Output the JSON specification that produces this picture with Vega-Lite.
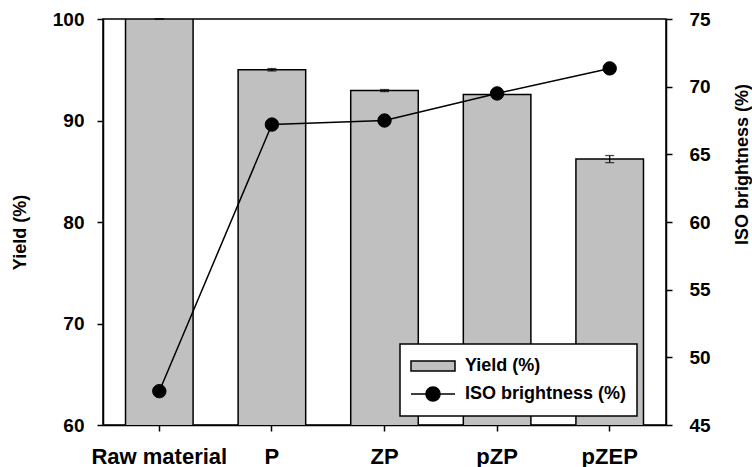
{
  "$schema": "https://vega.github.io/schema/vega-lite/v6.json",
  "width": 563,
  "height": 406,
  "autosize": {"type": "none"},
  "padding": {"left": 103, "top": 19, "right": 86, "bottom": 42},
  "background": "white",
  "config": {
    "font": "Liberation Sans",
    "view": {"stroke": "black", "strokeWidth": 1.5},
    "axis": {
      "domainColor": "black", "domainWidth": 1.5,
      "tickColor": "black", "tickWidth": 1.5, "tickSize": 6,
      "grid": false,
      "labelColor": "black", "labelFont": "Liberation Sans", "labelFontWeight": "bold", "labelFontSize": 19,
      "titleColor": "black", "titleFont": "Liberation Sans", "titleFontWeight": "bold", "titleFontSize": 18
    }
  },
  "data": {
    "values": [
      {"sample": "Raw material", "yield": 100, "yield_lo": 100, "yield_hi": 100, "brightness": 47.5},
      {"sample": "P", "yield": 95.0, "yield_lo": 94.88, "yield_hi": 95.12, "brightness": 67.2},
      {"sample": "ZP", "yield": 92.95, "yield_lo": 92.85, "yield_hi": 93.05, "brightness": 67.5},
      {"sample": "pZP", "yield": 92.55, "yield_lo": 92.5, "yield_hi": 92.6, "brightness": 69.5},
      {"sample": "pZEP", "yield": 86.2, "yield_lo": 85.85, "yield_hi": 86.55, "brightness": 71.35}
    ]
  },
  "encoding": {
    "x": {
      "field": "sample", "type": "nominal", "sort": null,
      "scale": {"paddingInner": 0.4, "paddingOuter": 0.2},
      "axis": {"title": null, "labelAngle": 0, "labelPadding": 32, "labelBaseline": "alphabetic", "labelFontSize": 22, "domain": true}
    }
  },
  "layer": [
    {
      "layer": [
        {
          "mark": {"type": "bar", "stroke": "black", "strokeWidth": 1.5, "clip": true},
          "encoding": {
            "y": {
              "field": "yield", "type": "quantitative",
              "scale": {"domain": [60, 100], "nice": false, "zero": false},
              "axis": {
                "values": [60, 70, 80, 90, 100], "labelPadding": 13,
                "title": "Yield (%)", "titleX": -83, "titleY": 213, "titleAngle": 270, "titleBaseline": "middle"
              }
            },
            "fill": {
              "datum": "Yield (%)",
              "scale": {"domain": ["Yield (%)", "ISO brightness (%)"], "range": ["#c0c0c0", "black"]},
              "legend": {
                "title": null,
                "orient": "none", "legendX": 297, "legendY": 325,
                "strokeColor": "black", "fillColor": "white",
                "padding": 10, "rowPadding": 4, "clipHeight": 24,
                "symbolSize": 1936, "symbolType": "square",
                "symbolStrokeColor": "black", "symbolStrokeWidth": 1.5,
                "labelFont": "Liberation Sans", "labelFontWeight": "bold", "labelFontSize": 18, "labelColor": "black",
                "labelOffset": 9, "labelLimit": 400,
                "encode": {
                  "legend": {
                    "update": {"strokeWidth": {"value": 1.5}}
                  },
                  "symbols": {
                    "update": {
                      "shape": {"signal": "datum.value === 'Yield (%)' ? 'M-1,-0.23H1V0.23H-1Z' : 'M-1,0H1M-0.32,0A0.32,0.32 0 1,0 0.32,0A0.32,0.32 0 1,0 -0.32,0Z'"}
                    }
                  }
                }
              }
            }
          }
        },
        {
          "mark": {"type": "rule", "color": "black", "strokeWidth": 1.2},
          "encoding": {
            "y": {"field": "yield_lo", "type": "quantitative"},
            "y2": {"field": "yield_hi"}
          }
        },
        {
          "mark": {"type": "tick", "color": "black", "size": 9, "thickness": 1.3, "orient": "horizontal"},
          "encoding": {"y": {"field": "yield_hi", "type": "quantitative"}}
        },
        {
          "mark": {"type": "tick", "color": "black", "size": 9, "thickness": 1.3, "orient": "horizontal"},
          "encoding": {"y": {"field": "yield_lo", "type": "quantitative"}}
        }
      ]
    },
    {
      "layer": [
        {
          "mark": {"type": "line", "color": "black", "strokeWidth": 1.5},
          "encoding": {
            "y": {
              "field": "brightness", "type": "quantitative",
              "scale": {"domain": [45, 75], "nice": false, "zero": false},
              "axis": {
                "orient": "right", "values": [45, 50, 55, 60, 65, 70, 75], "labelPadding": 17,
                "title": "ISO brightness (%)", "titleX": 76, "titleY": 145, "titleAngle": 270, "titleBaseline": "middle"
              }
            }
          }
        },
        {
          "mark": {"type": "point", "filled": true, "size": 180, "opacity": 1, "stroke": "black", "strokeWidth": 1},
          "encoding": {
            "y": {"field": "brightness", "type": "quantitative"},
            "fill": {"datum": "ISO brightness (%)"}
          }
        }
      ]
    }
  ],
  "resolve": {"scale": {"y": "independent"}}
}
